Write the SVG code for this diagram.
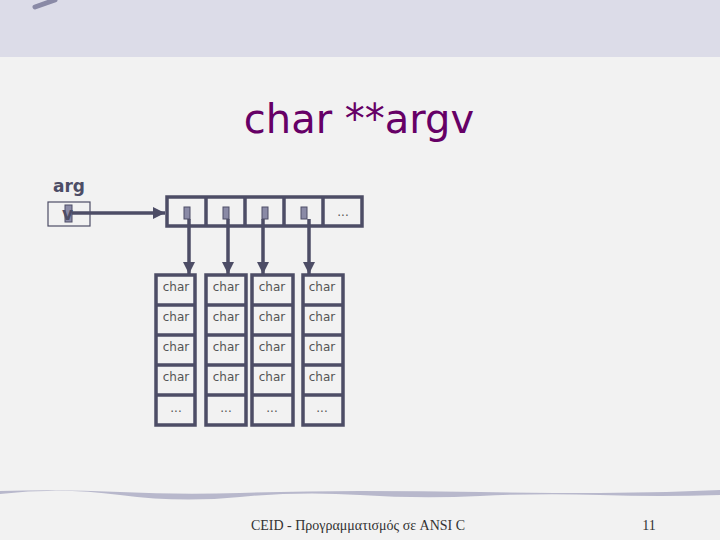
<svg xmlns="http://www.w3.org/2000/svg" width="720" height="540" viewBox="0 0 720 540">
<defs>
<style>
.box{fill:none;stroke:#4d4d66;stroke-width:3.5}
.thin{fill:none;stroke:#4d4d66;stroke-width:1.2}
.ptr{fill:#8a8aa6;stroke:#4d4d66;stroke-width:1}
.wire{fill:none;stroke:#4d4d66;stroke-width:3.5}
.cell{font-family:"DejaVu Sans",sans-serif;font-size:12px;fill:#555;text-anchor:middle}
.lbl{font-family:"DejaVu Sans",sans-serif;font-size:17px;font-weight:bold;fill:#4d4d66}
</style>
<marker id="ah" viewBox="0 0 10 10" refX="10" refY="5" markerWidth="3.5" markerHeight="3.5" orient="auto" markerUnits="strokeWidth">
<path d="M0,0 L10,5 L0,10 z" fill="#4d4d66"/>
</marker>
</defs>
<rect width="720" height="540" fill="#f2f2f2"/>
<rect width="720" height="57" fill="#dcdce8"/>
<path d="M35,7 L55,0" stroke="#8a8aa6" stroke-width="5" stroke-linecap="round"/>
<path d="M0,491 Q60,489 120,492 T240,493 T360,491 T480,492 T600,493 T720,490 L720,495 Q660,497 600,495 T480,496 T360,495 T240,497 T120,495 T0,494 z" fill="#b8b8cc"/>
<text x="359" y="133" text-anchor="middle" font-family="'DejaVu Sans',sans-serif" font-size="40" fill="#660066">char **argv</text>

<g id="argv">
<text class="lbl" x="53" y="192">arg</text>
<rect class="thin" x="48" y="202" width="42" height="24"/>
<rect class="ptr" x="65" y="205" width="7" height="17"/>
<text class="lbl" x="62" y="220" font-size="15">v</text>
</g>

<g id="array">
<rect class="box" x="167" y="197" width="195" height="29"/>
<line class="box" x1="206" y1="197" x2="206" y2="226"/>
<line class="box" x1="245" y1="197" x2="245" y2="226"/>
<line class="box" x1="284" y1="197" x2="284" y2="226"/>
<line class="box" x1="323" y1="197" x2="323" y2="226"/>
<rect class="ptr" x="184" y="207" width="6" height="12"/>
<rect class="ptr" x="223" y="207" width="6" height="12"/>
<rect class="ptr" x="262" y="207" width="6" height="12"/>
<rect class="ptr" x="301" y="207" width="6" height="12"/>
<text class="cell" x="343" y="216">...</text>
</g>

<g id="col1">
<rect class="box" x="156" y="275" width="39" height="150"/>
<line class="box" x1="156" y1="305" x2="195" y2="305"/>
<line class="box" x1="156" y1="335" x2="195" y2="335"/>
<line class="box" x1="156" y1="365" x2="195" y2="365"/>
<line class="box" x1="156" y1="395" x2="195" y2="395"/>
<text class="cell" x="176" y="291">char</text>
<text class="cell" x="176" y="321">char</text>
<text class="cell" x="176" y="351">char</text>
<text class="cell" x="176" y="381">char</text>
<text class="cell" x="176" y="412">...</text>
</g>
<g id="col2">
<rect class="box" x="206" y="275" width="40" height="150"/>
<line class="box" x1="206" y1="305" x2="246" y2="305"/>
<line class="box" x1="206" y1="335" x2="246" y2="335"/>
<line class="box" x1="206" y1="365" x2="246" y2="365"/>
<line class="box" x1="206" y1="395" x2="246" y2="395"/>
<text class="cell" x="226" y="291">char</text>
<text class="cell" x="226" y="321">char</text>
<text class="cell" x="226" y="351">char</text>
<text class="cell" x="226" y="381">char</text>
<text class="cell" x="226" y="412">...</text>
</g>
<g id="col3">
<rect class="box" x="252" y="275" width="41" height="150"/>
<line class="box" x1="252" y1="305" x2="293" y2="305"/>
<line class="box" x1="252" y1="335" x2="293" y2="335"/>
<line class="box" x1="252" y1="365" x2="293" y2="365"/>
<line class="box" x1="252" y1="395" x2="293" y2="395"/>
<text class="cell" x="272" y="291">char</text>
<text class="cell" x="272" y="321">char</text>
<text class="cell" x="272" y="351">char</text>
<text class="cell" x="272" y="381">char</text>
<text class="cell" x="272" y="412">...</text>
</g>
<g id="col4">
<rect class="box" x="303" y="275" width="40" height="150"/>
<line class="box" x1="303" y1="305" x2="343" y2="305"/>
<line class="box" x1="303" y1="335" x2="343" y2="335"/>
<line class="box" x1="303" y1="365" x2="343" y2="365"/>
<line class="box" x1="303" y1="395" x2="343" y2="395"/>
<text class="cell" x="322" y="291">char</text>
<text class="cell" x="322" y="321">char</text>
<text class="cell" x="322" y="351">char</text>
<text class="cell" x="322" y="381">char</text>
<text class="cell" x="322" y="412">...</text>
</g>

<g id="connectors">
<line class="wire" x1="72" y1="213" x2="165" y2="213" marker-end="url(#ah)"/>
<line class="wire" x1="189" y1="219" x2="189" y2="274" marker-end="url(#ah)"/>
<line class="wire" x1="228" y1="219" x2="228" y2="274" marker-end="url(#ah)"/>
<line class="wire" x1="263" y1="219" x2="263" y2="274" marker-end="url(#ah)"/>
<line class="wire" x1="309" y1="219" x2="309" y2="274" marker-end="url(#ah)"/>
</g>

<text x="358" y="530" text-anchor="middle" font-family="'Liberation Serif',serif" font-size="14" fill="#333">CEID - Προγραμματισμός σε ANSI C</text>
<text x="649" y="530" text-anchor="middle" font-family="'Liberation Serif',serif" font-size="14" fill="#333">11</text>
</svg>
